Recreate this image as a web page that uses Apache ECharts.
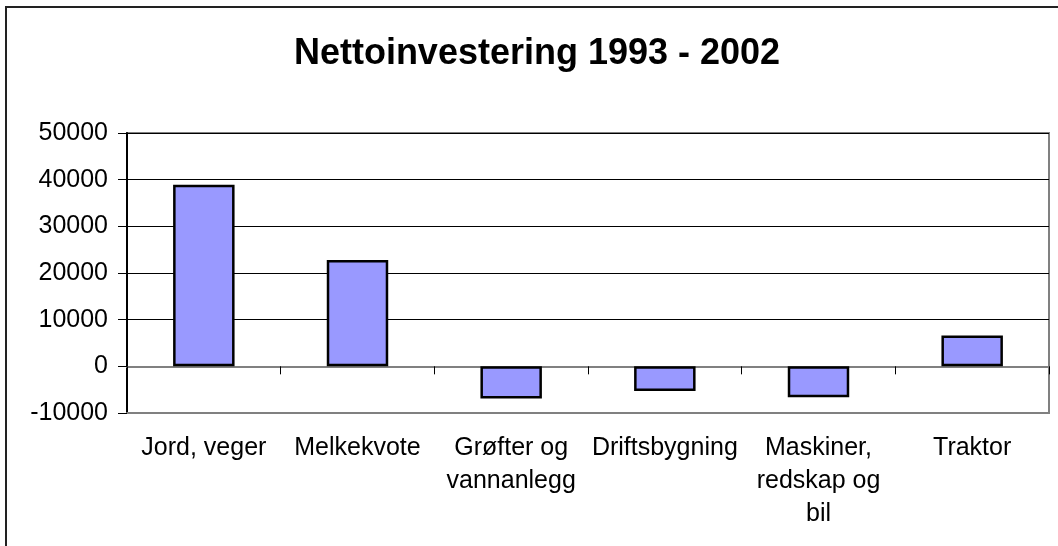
<!DOCTYPE html>
<html>
<head>
<meta charset="utf-8">
<script src="https://cdn.jsdelivr.net/npm/echarts@6/dist/echarts.min.js"></script>
<style>html,body{margin:0;padding:0;background:#fff;}#c{width:1058px;height:546px;}</style>
</head>
<body>
<div id="c"></div>
<script>
const titleText = "Nettoinvestering 1993 - 2002";
const categories = ["Jord, veger", "Melkekvote", "Grøfter og\nvannanlegg", "Driftsbygning", "Maskiner,\nredskap og\nbil", "Traktor"];
const values = [38900, 22800, -6900, -5300, -6600, 6600];
const yMin = -10000, yMax = 50000, yStep = 10000;

const FONT = "'Liberation Sans', Arial, sans-serif";
const chart = echarts.init(document.getElementById('c'), null, {renderer: 'canvas'});
chart.setOption({
  animation: false,
  backgroundColor: '#fff',
  graphic: [{
    type: 'rect', shape: {x: 6, y: 7, width: 2000, height: 2000},
    style: {fill: 'none', stroke: '#222', lineWidth: 2}, silent: true, z: -10
  }],
  title: {
    text: titleText, left: 532, top: 31, textAlign: 'center',
    textStyle: {fontFamily: FONT, fontWeight: 'bold', fontSize: 36, color: '#000', lineHeight: 36}
  },
  grid: {left: 127, right: 9, top: 133, bottom: 133, show: true, borderColor: '#808080', borderWidth: 2, containLabel: false},
  xAxis: [{
    type: 'category', data: categories, position: 'bottom',
    axisLine: {show: true, onZero: false, lineStyle: {color: '#808080', width: 2}},
    axisTick: {show: false},
    axisLabel: {fontFamily: FONT, fontSize: 25, color: '#000', margin: 19, lineHeight: 33, interval: 0}
  }, {
    type: 'category', data: categories, position: 'bottom',
    axisLine: {show: true, onZero: true, lineStyle: {color: '#808080', width: 2}},
    axisTick: {show: true, length: 8, lineStyle: {color: '#000', width: 1}},
    axisLabel: {show: false}
  }],
  yAxis: {
    type: 'value', min: yMin, max: yMax, interval: yStep,
    axisLine: {show: true, lineStyle: {color: '#000', width: 2}},
    axisTick: {show: true, length: 9, lineStyle: {color: '#000', width: 1}},
    axisLabel: {fontFamily: FONT, fontSize: 25, color: '#000', margin: 19, formatter: v => String(v)},
    splitLine: {show: true, lineStyle: {color: '#000', width: 1}}
  },
  series: [{
    type: 'bar', data: values, xAxisIndex: 0, barWidth: '40%',
    itemStyle: {color: '#9999FF', borderColor: '#000', borderWidth: 2.5}
  }]
});
</script>
</body>
</html>
